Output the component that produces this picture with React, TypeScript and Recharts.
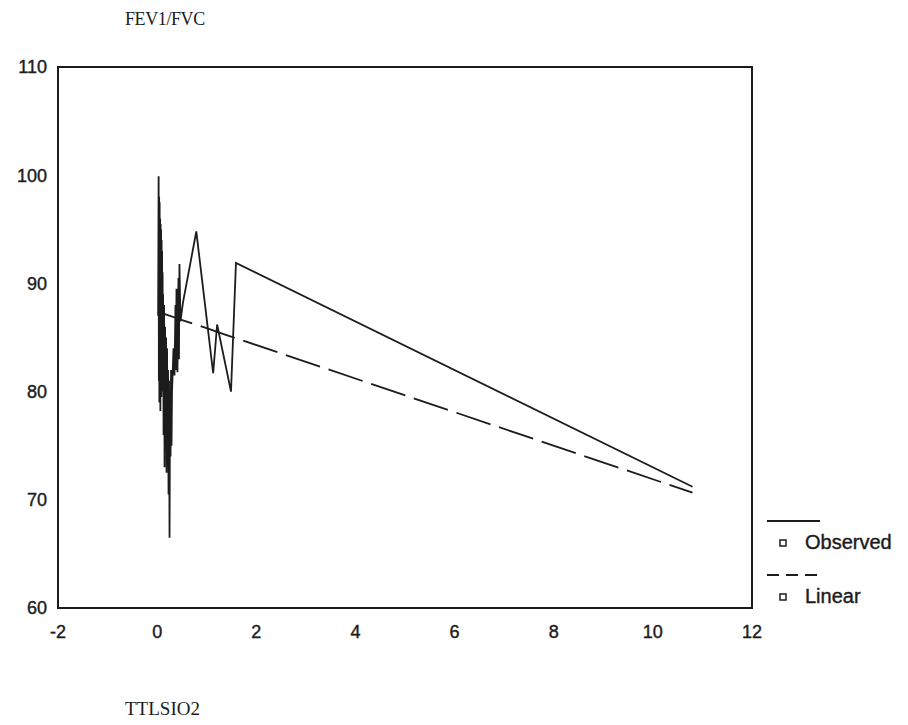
import { LineChart, Line, XAxis, YAxis, ReferenceArea } from 'recharts';

// time (x) values of the observations, sorted
const times = [
  0.02, 0.03, 0.035, 0.04, 0.045, 0.05, 0.055, 0.06, 0.065, 0.07, 0.075, 0.08, 0.085,
  0.09, 0.095, 0.1, 0.105, 0.11, 0.115, 0.12,
  0.13, 0.14, 0.15, 0.16, 0.17, 0.18, 0.19, 0.2, 0.21, 0.22, 0.23, 0.24, 0.25, 0.26,
  0.27, 0.28, 0.29, 0.3,
  0.33, 0.35, 0.37, 0.38, 0.39, 0.41, 0.43, 0.44, 0.45, 0.47,
  0.52, 0.79, 1.13, 1.21, 1.49, 1.59, 10.8,
];

const observed = [
  87, 99.9, 81, 98, 79, 97.5, 80.5, 96, 78.2, 95.5, 82, 95, 79.5,
  94, 83, 93, 80, 91, 84, 89,
  76, 88, 73, 86, 78, 85, 72.5, 84, 74, 82, 70.5, 81, 66.5, 80,
  74, 82, 75, 80,
  84, 81.5, 88, 82, 89.5, 81.8, 90.5, 83, 91.8, 86.5,
  88.2, 94.8, 81.7, 86.2, 80, 91.9, 71.2,
];

const linear = [
  87.37, 87.35, 87.35, 87.34, 87.33, 87.32, 87.32, 87.31, 87.3, 87.29, 87.28, 87.28, 87.27,
  87.26, 87.25, 87.25, 87.24, 87.23, 87.22, 87.21,
  87.2, 87.18, 87.17, 87.15, 87.14, 87.12, 87.11, 87.09, 87.07, 87.06, 87.04, 87.03, 87.01, 87,
  86.98, 86.97, 86.95, 86.94,
  86.89, 86.86, 86.83, 86.81, 86.8, 86.76, 86.73, 86.72, 86.7, 86.67,
  86.59, 86.18, 85.65, 85.52, 85.09, 84.94, 70.66,
];

const xTicks = [-2, 0, 2, 4, 6, 8, 10, 12];
const yTicks = [60, 70, 80, 90, 100, 110];

const data = times.map((t, i) => ({ t, observed: observed[i], linear: linear[i] }));

const ink = '#1c1c1c';
const sans = 'Liberation Sans, Arial, sans-serif';
const serif = 'Liberation Serif, Times New Roman, serif';
const tickStyle = { fill: ink, stroke: ink, strokeWidth: 0.4, fontSize: 18, fontFamily: sans };

export default function App() {
  return (
    <div style={{ position: 'absolute', left: 0, top: 0, width: 908, height: 725, background: '#fff' }}>
      <div
        style={{
          position: 'absolute',
          left: 125,
          top: 9,
          fontFamily: serif,
          fontSize: 18,
          letterSpacing: -0.4,
          color: ink,
        }}
      >
        FEV1/FVC
      </div>
      <div style={{ position: 'absolute', left: 125, top: 698, fontFamily: serif, fontSize: 19, color: ink }}>
        TTLSIO2
      </div>

      <LineChart width={908} height={725} data={data} margin={{ top: 67, right: 156, bottom: 0, left: 0 }}>
        <XAxis
          dataKey="t"
          type="number"
          domain={[-2, 12]}
          ticks={xTicks}
          height={117}
          axisLine={false}
          tickLine={false}
          tickSize={0}
          tickMargin={17}
          tick={tickStyle}
          interval={0}
        />
        <YAxis
          type="number"
          domain={[60, 110]}
          ticks={yTicks}
          width={58}
          axisLine={false}
          tickLine={false}
          tickSize={0}
          tickMargin={11}
          tick={tickStyle}
          interval={0}
        />
        <ReferenceArea x1={-2} x2={12} y1={60} y2={110} fill="none" fillOpacity={0} stroke={ink} strokeWidth={2} />
        <Line
          type="linear"
          dataKey="observed"
          stroke={ink}
          strokeWidth={1.8}
          dot={false}
          isAnimationActive={false}
        />
        <Line
          type="linear"
          dataKey="linear"
          stroke={ink}
          strokeWidth={1.8}
          strokeDasharray="36 9"
          dot={false}
          isAnimationActive={false}
        />
      </LineChart>

      <div style={{ position: 'absolute', left: 767, top: 510, fontFamily: sans, fontSize: 20, color: ink }}>
        <svg width={140} height={100} style={{ position: 'absolute', left: 0, top: 0 }}>
          <line x1={0} y1={11} x2={53} y2={11} stroke={ink} strokeWidth={1.8} />
          <rect x={13} y={30} width={6} height={6} fill="none" stroke={ink} strokeWidth={1.5} />
          <line x1={0} y1={65} x2={53} y2={65} stroke={ink} strokeWidth={1.8} strokeDasharray="12 7" />
          <rect x={13} y={84} width={6} height={6} fill="none" stroke={ink} strokeWidth={1.5} />
        </svg>
        <div style={{ position: 'absolute', left: 38, top: 21, whiteSpace: 'nowrap', WebkitTextStroke: '0.4px #1c1c1c' }}>
          Observed
        </div>
        <div style={{ position: 'absolute', left: 38, top: 75, whiteSpace: 'nowrap', WebkitTextStroke: '0.4px #1c1c1c' }}>
          Linear
        </div>
      </div>
    </div>
  );
}
